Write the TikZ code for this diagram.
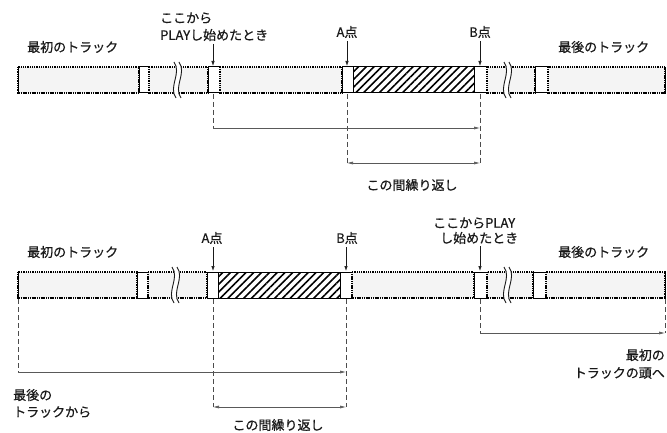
\documentclass[tikz,border=0pt]{standalone}
\usepackage{fontspec}
\setmainfont{Noto Sans CJK JP}[FakeBold=0.7]
\usetikzlibrary{arrows.meta,patterns.meta}
\newcommand\tapebreak[3]{%
  \fill[white] (#1-3,#2-5) .. controls (#1+5,#2+6) and (#1-9,#3-6) .. (#1-1,#3+5)
     -- (#1+4,#3+5) .. controls (#1-4,#3-6) and (#1+10,#2+6) .. (#1+2,#2-5) -- cycle;
  \draw[breakline] (#1-3,#2-5) .. controls (#1+5,#2+6) and (#1-9,#3-6) .. (#1-1,#3+5);
  \draw[breakline] (#1+2,#2-5) .. controls (#1+10,#2+6) and (#1-4,#3-6) .. (#1+4,#3+5);
}
\begin{document}
\begin{tikzpicture}[x=1pt,y=-1pt,
  track/.style={fill=gray!9, draw=black, dash pattern=on 1.1pt off 0.7pt, line width=1.4pt},
  gapseg/.style={fill=white, draw=black, line width=1pt},
  hatch/.style={draw=black, line width=1pt, pattern={Lines[angle=45,distance=5.5pt,line width=1.6pt]}},
  edge/.style={draw=black, line width=1pt},
  breakline/.style={draw=black!90, line width=0.9pt},
  lbl/.style={font=\fontsize{13}{15}\selectfont, text=black!90, inner sep=0pt},
  pointer/.style={draw=black!90, line width=0.7pt, -{Latex[length=5pt,width=3.5pt]}},
  guide/.style={draw=black!70, line width=0.6pt, dash pattern=on 5pt off 3pt},
  span/.style={draw=black!65, line width=0.6pt, -{Latex[length=6pt,width=3pt]}},
  both/.style={draw=black!65, line width=0.6pt, {Latex[length=6pt,width=3pt]}-{Latex[length=6pt,width=3pt]}}
]
\useasboundingbox (0,0) rectangle (667,433);

% ---------- upper tape ----------
\path[track]  (18,67) rectangle (139,93);
\path[gapseg] (139,67) rectangle (149,93);
\path[track]  (149,67) rectangle (208,93);
\path[gapseg] (208,67) rectangle (220,93);
\path[track]  (220,67) rectangle (342,93);
\path[gapseg] (342,67) rectangle (353,93);
\path[hatch]  (353,67) rectangle (474,93);
\path[gapseg] (474,67) rectangle (487,93);
\path[track]  (487,67) rectangle (535,93);
\path[gapseg] (535,67) rectangle (548,93);
\path[track]  (548,67) rectangle (665,93);
\draw[edge] (18,67) -- (18,93) (665,67) -- (665,93);
\tapebreak{177}{67}{93}
\tapebreak{507}{67}{93}

\node[lbl, anchor=west] (u1) at (160,18) {ここから};
\node[lbl, anchor=west] (u2) at (160,35) {PLAYし始めたとき};
\node[lbl, anchor=west] (ufirst) at (27,47) {最初のトラック};
\node[lbl, anchor=west] (ulast) at (558,47) {最後のトラック};
\node[lbl] (uA) at (347,32) {A点};
\node[lbl] (uB) at (480,32) {B点};
\node[lbl] (urep) at (412,185) {この間繰り返し};

\coordinate (usp) at (213,44);
\coordinate (ust) at (213,66);
\coordinate (uAt) at (347,66);
\coordinate (uBt) at (480,66);
\draw[pointer] (usp) -- (ust);
\draw[pointer] ([yshift=-3pt]uA.south) -- (uAt);
\draw[pointer] ([yshift=-3pt]uB.south) -- (uBt);

\coordinate (usb) at (213,94);
\coordinate (usc) at (213,128);
\coordinate (uBc) at (480,128);
\coordinate (uAb) at (347,94);
\coordinate (uAd) at (347,163);
\coordinate (uBb) at (480,94);
\coordinate (uBd) at (480,163);
\draw[guide] (usb) -- (usc);
\draw[guide] (uAb) -- (uAd);
\draw[guide] (uBb) -- (uBd);
\draw[span] (usc) -- (uBc);
\draw[both] (uAd) -- (uBd);

% ---------- lower tape ----------
\path[track]  (18,272) rectangle (137,298);
\path[gapseg] (137,272) rectangle (148,298);
\path[track]  (148,272) rectangle (207,298);
\path[gapseg] (207,272) rectangle (218,298);
\path[hatch]  (218,272) rectangle (340,298);
\path[gapseg] (340,272) rectangle (352,298);
\path[track]  (352,272) rectangle (474,298);
\path[gapseg] (474,272) rectangle (487,298);
\path[track]  (487,272) rectangle (533,298);
\path[gapseg] (533,272) rectangle (546,298);
\path[track]  (546,272) rectangle (665,298);
\draw[edge] (18,272) -- (18,298) (665,272) -- (665,298);
\tapebreak{175}{272}{298}
\tapebreak{507}{272}{298}

\node[lbl, anchor=west] (lfirst) at (27,252) {最初のトラック};
\node[lbl, anchor=west] (llast) at (558,252) {最後のトラック};
\node[lbl] (lA) at (212,238) {A点};
\node[lbl] (lB) at (347,238) {B点};
\node[lbl, anchor=west] (l1) at (433,223) {ここからPLAY};
\node[lbl, anchor=west] (l2) at (440,238) {し始めたとき};
\node[lbl, anchor=west] (lfrom1) at (13,395) {最後の};
\node[lbl, anchor=west] (lfrom2) at (13,412) {トラックから};
\node[lbl] (lrep) at (278,425) {この間繰り返し};
\node[lbl, anchor=east] (lto1) at (665,355) {最初の};
\node[lbl, anchor=east] (lto2) at (665,373) {トラックの頭へ};

\coordinate (lAt) at (213,271);
\coordinate (lBt) at (346,271);
\coordinate (lsp) at (480,246);
\coordinate (lst) at (480,271);
\draw[pointer] ([yshift=-3pt]lA.south -| lAt) -- (lAt);
\draw[pointer] ([yshift=-3pt]lB.south -| lBt) -- (lBt);
\draw[pointer] (lsp) -- (lst);

\coordinate (lLb) at (18,299);
\coordinate (lLc) at (18,372);
\coordinate (lBc) at (346,372);
\coordinate (lAb) at (213,299);
\coordinate (lAd) at (213,407);
\coordinate (lBb) at (346,299);
\coordinate (lBd) at (346,407);
\coordinate (lsb) at (480,299);
\coordinate (lsc) at (480,333);
\coordinate (lRb) at (665,299);
\coordinate (lRc) at (665,333);
\draw[guide] (lLb) -- (lLc);
\draw[guide] (lAb) -- (lAd);
\draw[guide] (lBb) -- (lBd);
\draw[guide] (lsb) -- (lsc);
\draw[guide] (lRb) -- (lRc);
\draw[span] (lLc) -- (lBc);
\draw[both] (lAd) -- (lBd);
\draw[span] (lsc) -- (lRc);
\end{tikzpicture}
\end{document}
